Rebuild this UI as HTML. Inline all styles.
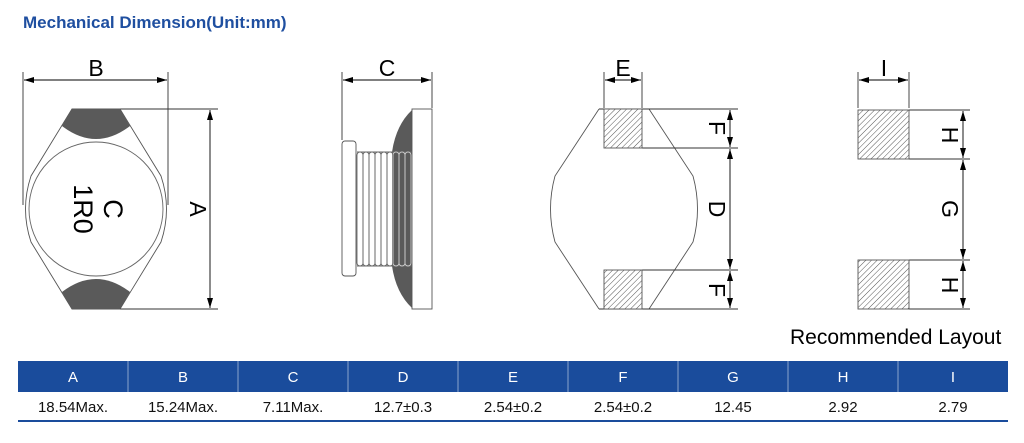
<!DOCTYPE html>
<html><head><meta charset="utf-8"><style>
html,body{margin:0;padding:0;background:#fff;width:1024px;height:443px;overflow:hidden;font-family:"Liberation Sans",sans-serif}
</style></head><body>
<svg width="1024" height="443" viewBox="0 0 1024 443" xmlns="http://www.w3.org/2000/svg" font-family="Liberation Sans, sans-serif">
<defs>
<marker id="ar" viewBox="0 0 10 6" refX="10" refY="3" markerWidth="10" markerHeight="6" orient="auto-start-reverse" markerUnits="userSpaceOnUse"><path d="M0,0 L10,3 L0,6 Z" fill="#000"/></marker>
<pattern id="hatch" width="4" height="4" patternUnits="userSpaceOnUse" patternTransform="rotate(45)"><rect width="4" height="4" fill="#fff"/><line x1="0" y1="0" x2="0" y2="4" stroke="#555" stroke-width="1"/></pattern>
</defs>
<text x="23" y="28" font-size="17" font-weight="bold" fill="#1f4fa0">Mechanical Dimension(Unit:mm)</text>

<g stroke="#333" stroke-width="0.9" fill="none">
<line x1="23" y1="72" x2="23" y2="205"/><line x1="168" y1="72" x2="168" y2="205"/>
<line x1="24" y1="80" x2="167" y2="80" marker-start="url(#ar)" marker-end="url(#ar)" stroke="#000"/>
<line x1="120" y1="109" x2="218" y2="109"/><line x1="120" y1="309" x2="218" y2="309"/>
<line x1="210" y1="110" x2="210" y2="308" marker-start="url(#ar)" marker-end="url(#ar)" stroke="#000"/>
<path d="M72,109 L120,109 L161,176 Q172,209 161,242 L120,309 L72,309 L31,242 Q20,209 31,176 Z" stroke="#555"/>
<circle cx="96" cy="209" r="67" stroke="#666"/>
<path d="M72,109 L120,109 L130,126 Q96,152 62,126 Z" fill="#5a5a5a" stroke="none"/>
<path d="M72,309 L120,309 L130,292 Q96,266 62,292 Z" fill="#5a5a5a" stroke="none"/>

<line x1="342" y1="72" x2="342" y2="140"/><line x1="432" y1="72" x2="432" y2="108"/>
<line x1="343" y1="80" x2="431" y2="80" marker-start="url(#ar)" marker-end="url(#ar)" stroke="#000"/>
<path d="M412,110 Q396,125 392,152 L392,266 Q396,293 412,308 Z" fill="#5a5a5a" stroke="none"/>
<rect x="412" y="109" width="20" height="200" stroke="#555"/>
<rect x="342" y="141" width="14" height="135" rx="3" stroke="#555"/>
<rect x="357" y="152" width="35" height="114" fill="#fff" stroke="none"/>
<path d="M357,152 L412,152 M357,266 L412,266" stroke="#666"/>
<g stroke="#666">
<rect x="357" y="152" width="6" height="114" rx="3"/><rect x="363" y="152" width="6" height="114" rx="3"/>
<rect x="369" y="152" width="6" height="114" rx="3"/><rect x="375" y="152" width="6" height="114" rx="3"/>
<rect x="381" y="152" width="6" height="114" rx="3"/><rect x="387" y="152" width="6" height="114" rx="3"/>
<rect x="393" y="152" width="6" height="114" rx="3" stroke="#ccc"/><rect x="399" y="152" width="6" height="114" rx="3" stroke="#ccc"/><rect x="405" y="152" width="6" height="114" rx="3" stroke="#ccc"/>
</g>

<line x1="604" y1="72" x2="604" y2="108"/><line x1="642" y1="72" x2="642" y2="108"/>
<line x1="605" y1="80" x2="641" y2="80" marker-start="url(#ar)" marker-end="url(#ar)" stroke="#000"/>
<path d="M599,109 L555,176 Q546,209 555,242 L599,309 M649,109 L693,176 Q702,209 693,242 L649,309" stroke="#555"/>
<line x1="599" y1="109" x2="738" y2="109"/><line x1="642" y1="148" x2="738" y2="148"/>
<line x1="642" y1="270" x2="738" y2="270"/><line x1="599" y1="309" x2="738" y2="309"/>
<rect x="604" y="109" width="38" height="39" fill="url(#hatch)" stroke="#555"/>
<rect x="604" y="270" width="38" height="39" fill="url(#hatch)" stroke="#555"/>
<g stroke="#000">
<line x1="730" y1="110" x2="730" y2="147" marker-start="url(#ar)" marker-end="url(#ar)"/>
<line x1="730" y1="149" x2="730" y2="269" marker-start="url(#ar)" marker-end="url(#ar)"/>
<line x1="730" y1="271" x2="730" y2="308" marker-start="url(#ar)" marker-end="url(#ar)"/>
</g>

<line x1="858" y1="72" x2="858" y2="108"/><line x1="909" y1="72" x2="909" y2="108"/>
<line x1="859" y1="80" x2="908" y2="80" marker-start="url(#ar)" marker-end="url(#ar)" stroke="#000"/>
<line x1="909" y1="110" x2="970" y2="110"/><line x1="909" y1="159" x2="970" y2="159"/>
<line x1="909" y1="260" x2="970" y2="260"/><line x1="909" y1="309" x2="970" y2="309"/>
<rect x="858" y="110" width="51" height="49" fill="url(#hatch)" stroke="#555"/>
<rect x="858" y="260" width="51" height="49" fill="url(#hatch)" stroke="#555"/>
<g stroke="#000">
<line x1="963" y1="111" x2="963" y2="158" marker-start="url(#ar)" marker-end="url(#ar)"/>
<line x1="963" y1="160" x2="963" y2="259" marker-start="url(#ar)" marker-end="url(#ar)"/>
<line x1="963" y1="261" x2="963" y2="308" marker-start="url(#ar)" marker-end="url(#ar)"/>
</g>
</g>

<g font-size="23" fill="#000" text-anchor="middle">
<text x="96" y="76">B</text>
<text x="387" y="76">C</text>
<text x="623" y="76">E</text>
<text x="884" y="76">I</text>
<text transform="translate(198,209) rotate(90)" y="8">A</text>
<text transform="translate(96,209) rotate(90)" font-size="27"><tspan x="0" y="-8">C</tspan><tspan x="0" y="22">1R0</tspan></text>
<text transform="translate(717,128) rotate(90)" y="8">F</text>
<text transform="translate(717,209) rotate(90)" y="8">D</text>
<text transform="translate(717,290) rotate(90)" y="8">F</text>
<text transform="translate(950,135) rotate(90)" y="8">H</text>
<text transform="translate(950,209) rotate(90)" y="8">G</text>
<text transform="translate(950,285) rotate(90)" y="8">H</text>
</g>
<text x="790" y="344" font-size="21" fill="#000">Recommended Layout</text>

<rect x="18" y="361" width="990" height="31" fill="#1a4c9c"/>
<g stroke="#8aa3cc" stroke-width="1">
<line x1="128" y1="361" x2="128" y2="392"/><line x1="238" y1="361" x2="238" y2="392"/><line x1="348" y1="361" x2="348" y2="392"/>
<line x1="458" y1="361" x2="458" y2="392"/><line x1="568" y1="361" x2="568" y2="392"/><line x1="678" y1="361" x2="678" y2="392"/>
<line x1="788" y1="361" x2="788" y2="392"/><line x1="898" y1="361" x2="898" y2="392"/>
</g>
<line x1="18" y1="421" x2="1008" y2="421" stroke="#1a4c9c" stroke-width="2"/>
<g font-size="15" text-anchor="middle">
<g fill="#fff">
<text x="73" y="382">A</text><text x="183" y="382">B</text><text x="293" y="382">C</text><text x="403" y="382">D</text><text x="513" y="382">E</text><text x="623" y="382">F</text><text x="733" y="382">G</text><text x="843" y="382">H</text><text x="953" y="382">I</text>
</g>
<g fill="#111">
<text x="73" y="412">18.54Max.</text><text x="183" y="412">15.24Max.</text><text x="293" y="412">7.11Max.</text><text x="403" y="412">12.7±0.3</text><text x="513" y="412">2.54±0.2</text><text x="623" y="412">2.54±0.2</text><text x="733" y="412">12.45</text><text x="843" y="412">2.92</text><text x="953" y="412">2.79</text>
</g>
</g>
</svg>
</body></html>
